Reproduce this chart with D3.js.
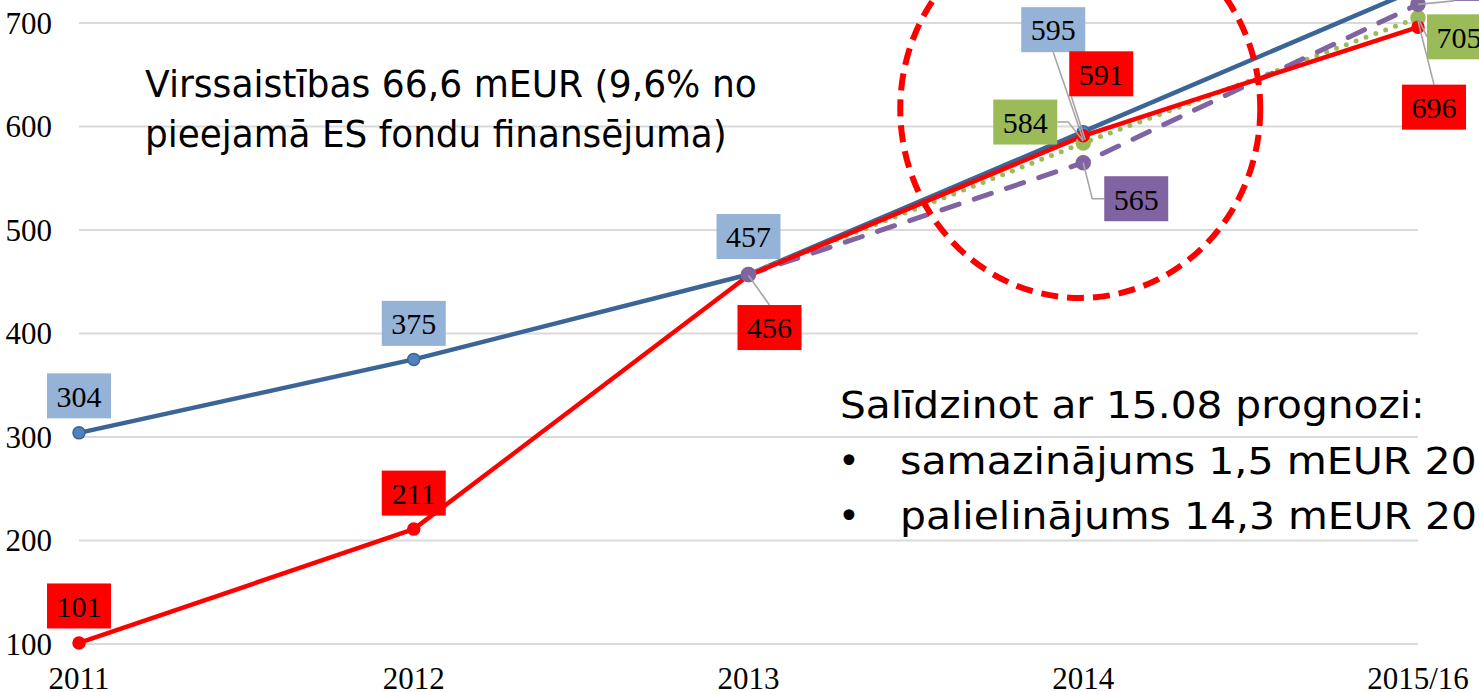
<!DOCTYPE html>
<meta charset="utf-8">
<title>Virssaistības</title>
<style>
  body { margin: 0; background: #fff; overflow: hidden; }
  .grid line { stroke: #d9d9d9; stroke-width: 2; }
  .tick-label { font-family: "Liberation Serif", "Times New Roman", serif; font-size: 31px; fill: #000; }
  .box-label { font-family: "Liberation Serif", "Times New Roman", serif; font-size: 30px; fill: #000; }
  .note { font-family: "DejaVu Sans", sans-serif; font-size: 37px; fill: #000; }
  .leader { fill: none; stroke: #a6a6a6; stroke-width: 1.6; }
</style>
<body>
<script src="https://cdn.jsdelivr.net/npm/d3@7"></script>
<script>
  // data
  var years = ["2011", "2012", "2013", "2014", "2015/16"];
  var yTicks = [100, 200, 300, 400, 500, 600, 700];
  var blueValues   = [304, 375, 457, 595, 733];
  var redValues    = [101, 211, 456, 591, 696];
  var greenValues  = [null, null, 457, 584, 705];
  var purpleValues = [null, null, 457, 565, 718];

  // which points get a label box, and where the box sits relative to the point (px)
  var blueLabels   = [[0, -37], [0, -36], [0, -38], [-30, -102], [0, -50]];
  var redLabels    = [[0, -37], [0, -36], [21, 52], [18, -62], [16, 80]];
  var greenLabels  = [null, null, null, [-58, -21], [41, 19]];
  var purpleLabels = [null, null, null, [53, 36], [68, -26]];

  var W = 1479, H = 692;

  var svg = d3.select("body").append("svg")
      .attr("width", W)
      .attr("height", H);

  var x = d3.scalePoint().domain(years).range([79, 1418]);
  var y = d3.scaleLinear().domain([100, 700]).range([644, 23]);

  // gridlines
  svg.append("g").attr("class", "grid")
    .selectAll("line")
    .data(yTicks)
    .enter().append("line")
      .attr("x1", x(years[0]))
      .attr("x2", x(years[years.length - 1]))
      .attr("y1", function(d) { return y(d); })
      .attr("y2", function(d) { return y(d); });

  // y tick labels
  svg.append("g").selectAll("text")
    .data(yTicks)
    .enter().append("text")
      .attr("class", "tick-label")
      .attr("x", 52)
      .attr("y", function(d) { return y(d); })
      .attr("dy", "0.35em")
      .attr("text-anchor", "end")
      .text(function(d) { return d; });

  // x tick labels
  svg.append("g").selectAll("text")
    .data(years)
    .enter().append("text")
      .attr("class", "tick-label")
      .attr("x", function(d) { return x(d); })
      .attr("y", 689)
      .attr("text-anchor", "middle")
      .text(function(d) { return d; });

  var blue   = { values: blueValues, labels: blueLabels, stroke: "#3a6596", width: 4.5, dash: null, cap: "butt",
                 marker: "#4f81bd", markerStroke: "#3a6596", r: 6, box: "#95b3d7" };
  var green  = { values: greenValues, labels: greenLabels, stroke: "#9bbb59", width: 5, dash: "0 10.5", cap: "round",
                 marker: "#9bbb59", markerStroke: "#9bbb59", r: 7, box: "#9bbb59" };
  var purple = { values: purpleValues, labels: purpleLabels, stroke: "#8064a2", width: 5, dash: "18 16", cap: "round",
                 marker: "#8064a2", markerStroke: "#8064a2", r: 7, box: "#8064a2" };
  var red    = { values: redValues, labels: redLabels, stroke: "#ff0000", width: 4.5, dash: null, cap: "butt",
                 marker: "#ff0000", markerStroke: "#ff0000", r: 6, box: "#ff0000" };

  var line = d3.line()
      .defined(function(d) { return d.v != null; })
      .x(function(d) { return x(d.year); })
      .y(function(d) { return y(d.v); });

  function pts(s) {
    return years.map(function(yr, i) { return { year: yr, v: s.values[i], lab: s.labels[i] }; });
  }

  // lines
  [blue, green, purple, red].forEach(function(s) {
    svg.append("path")
      .datum(pts(s))
      .attr("fill", "none")
      .attr("stroke", s.stroke)
      .attr("stroke-width", s.width)
      .attr("stroke-dasharray", s.dash)
      .attr("stroke-linecap", s.cap)
      .attr("stroke-linejoin", "round")
      .attr("d", line);
  });
  // markers
  [blue, green, red, purple].forEach(function(s) {
    svg.append("g").selectAll("circle")
      .data(pts(s).filter(function(d) { return d.v != null; }))
      .enter().append("circle")
        .attr("cx", function(d) { return x(d.year); })
        .attr("cy", function(d) { return y(d.v); })
        .attr("r", s.r)
        .attr("fill", s.marker)
        .attr("stroke", s.markerStroke)
        .attr("stroke-width", 1.5);
  });

  // red dashed ellipse around 2014
  svg.append("ellipse")
    .attr("cx", x("2014") - 3)
    .attr("cy", y(617))
    .attr("rx", 180)
    .attr("ry", 189)
    .attr("fill", "none")
    .attr("stroke", "#ff0000")
    .attr("stroke-width", 6)
    .attr("stroke-dasharray", "17 9");

  // leader lines (only for labels sitting away from their point)
  var bw = 64, bh = 45;
  var leaders = [
    [blue, 3, function(px, py, bx, by) { return [[bx, by + bh / 2], [px, py + 8]]; }],
    [red, 3, function(px, py, bx, by) { return [[bx - bw / 2 + 2, by + bh / 2], [px + 2, py + 4]]; }],
    [green, 3, function(px, py, bx, by) { return [[bx + bw / 2, by], [bx + bw / 2 + 11, by], [px, py - 2]]; }],
    [purple, 3, function(px, py, bx, by) { return [[bx - bw / 2, by], [px + 9, by], [px, py]]; }],
    [red, 2, function(px, py, bx, by) { return [[px, py], [bx, by - bh / 2]]; }],
    [red, 4, function(px, py, bx, by) { return [[px, py - 6], [bx, by - bh / 2]]; }],
    [green, 4, function(px, py, bx, by) { return [[px, py], [bx - bw / 2, by]]; }],
    [purple, 4, function(px, py, bx, by) { return [[px, py], [bx - bw / 2, by + bh / 2]]; }]
  ];
  leaders.forEach(function(l) {
    var s = l[0], i = l[1], lab = s.labels[i];
    var px = x(years[i]), py = y(s.values[i]);
    svg.append("path")
      .attr("class", "leader")
      .attr("d", d3.line()(l[2](px, py, px + lab[0], py + lab[1])));
  });

  // label boxes
  [blue, red, green, purple].forEach(function(s) {
    var g = svg.append("g").selectAll("g")
      .data(pts(s).filter(function(d) { return d.v != null && d.lab; }))
      .enter().append("g")
        .attr("transform", function(d) {
          return "translate(" + (x(d.year) + d.lab[0]) + "," + (y(d.v) + d.lab[1]) + ")";
        });
    g.append("rect")
      .attr("x", -bw / 2)
      .attr("y", -bh / 2)
      .attr("width", bw)
      .attr("height", bh)
      .attr("fill", s.box);
    g.append("text")
      .attr("class", "box-label")
      .attr("text-anchor", "middle")
      .attr("dy", "0.36em")
      .text(function(d) { return d.v; });
  });

  // annotations: [text, x, baseline, number of leading chars, their width in the picture]
  var notes = [
    ["Virssaistības 66,6 mEUR (9,6% no", 145, 97, 32, 612],
    ["pieejamā ES fondu finansējuma)", 145, 147, 30, 582],
    ["Salīdzinot ar 15.08 prognozi:", 840, 418, 29, 585],
    ["samazinājums 1,5 mEUR 2014", 900, 474, 24, 577],
    ["palielinājums 14,3 mEUR 2015/16", 900, 529, 26, 577]
  ];
  svg.append("g").selectAll("text")
    .data(notes)
    .enter().append("text")
      .attr("class", "note")
      .text(function(d) { return d[0]; })
      .attr("transform", function(d) {
        var sx = d[4] / this.getSubStringLength(0, d[3]);
        return "translate(" + d[1] + "," + d[2] + ") scale(" + sx + ",1)";
      });

  // bullets
  svg.append("g").selectAll("text")
    .data(notes.slice(3))
    .enter().append("text")
      .attr("class", "note")
      .attr("x", 838)
      .attr("y", function(d) { return d[2]; })
      .text("•");
</script>
</body>
